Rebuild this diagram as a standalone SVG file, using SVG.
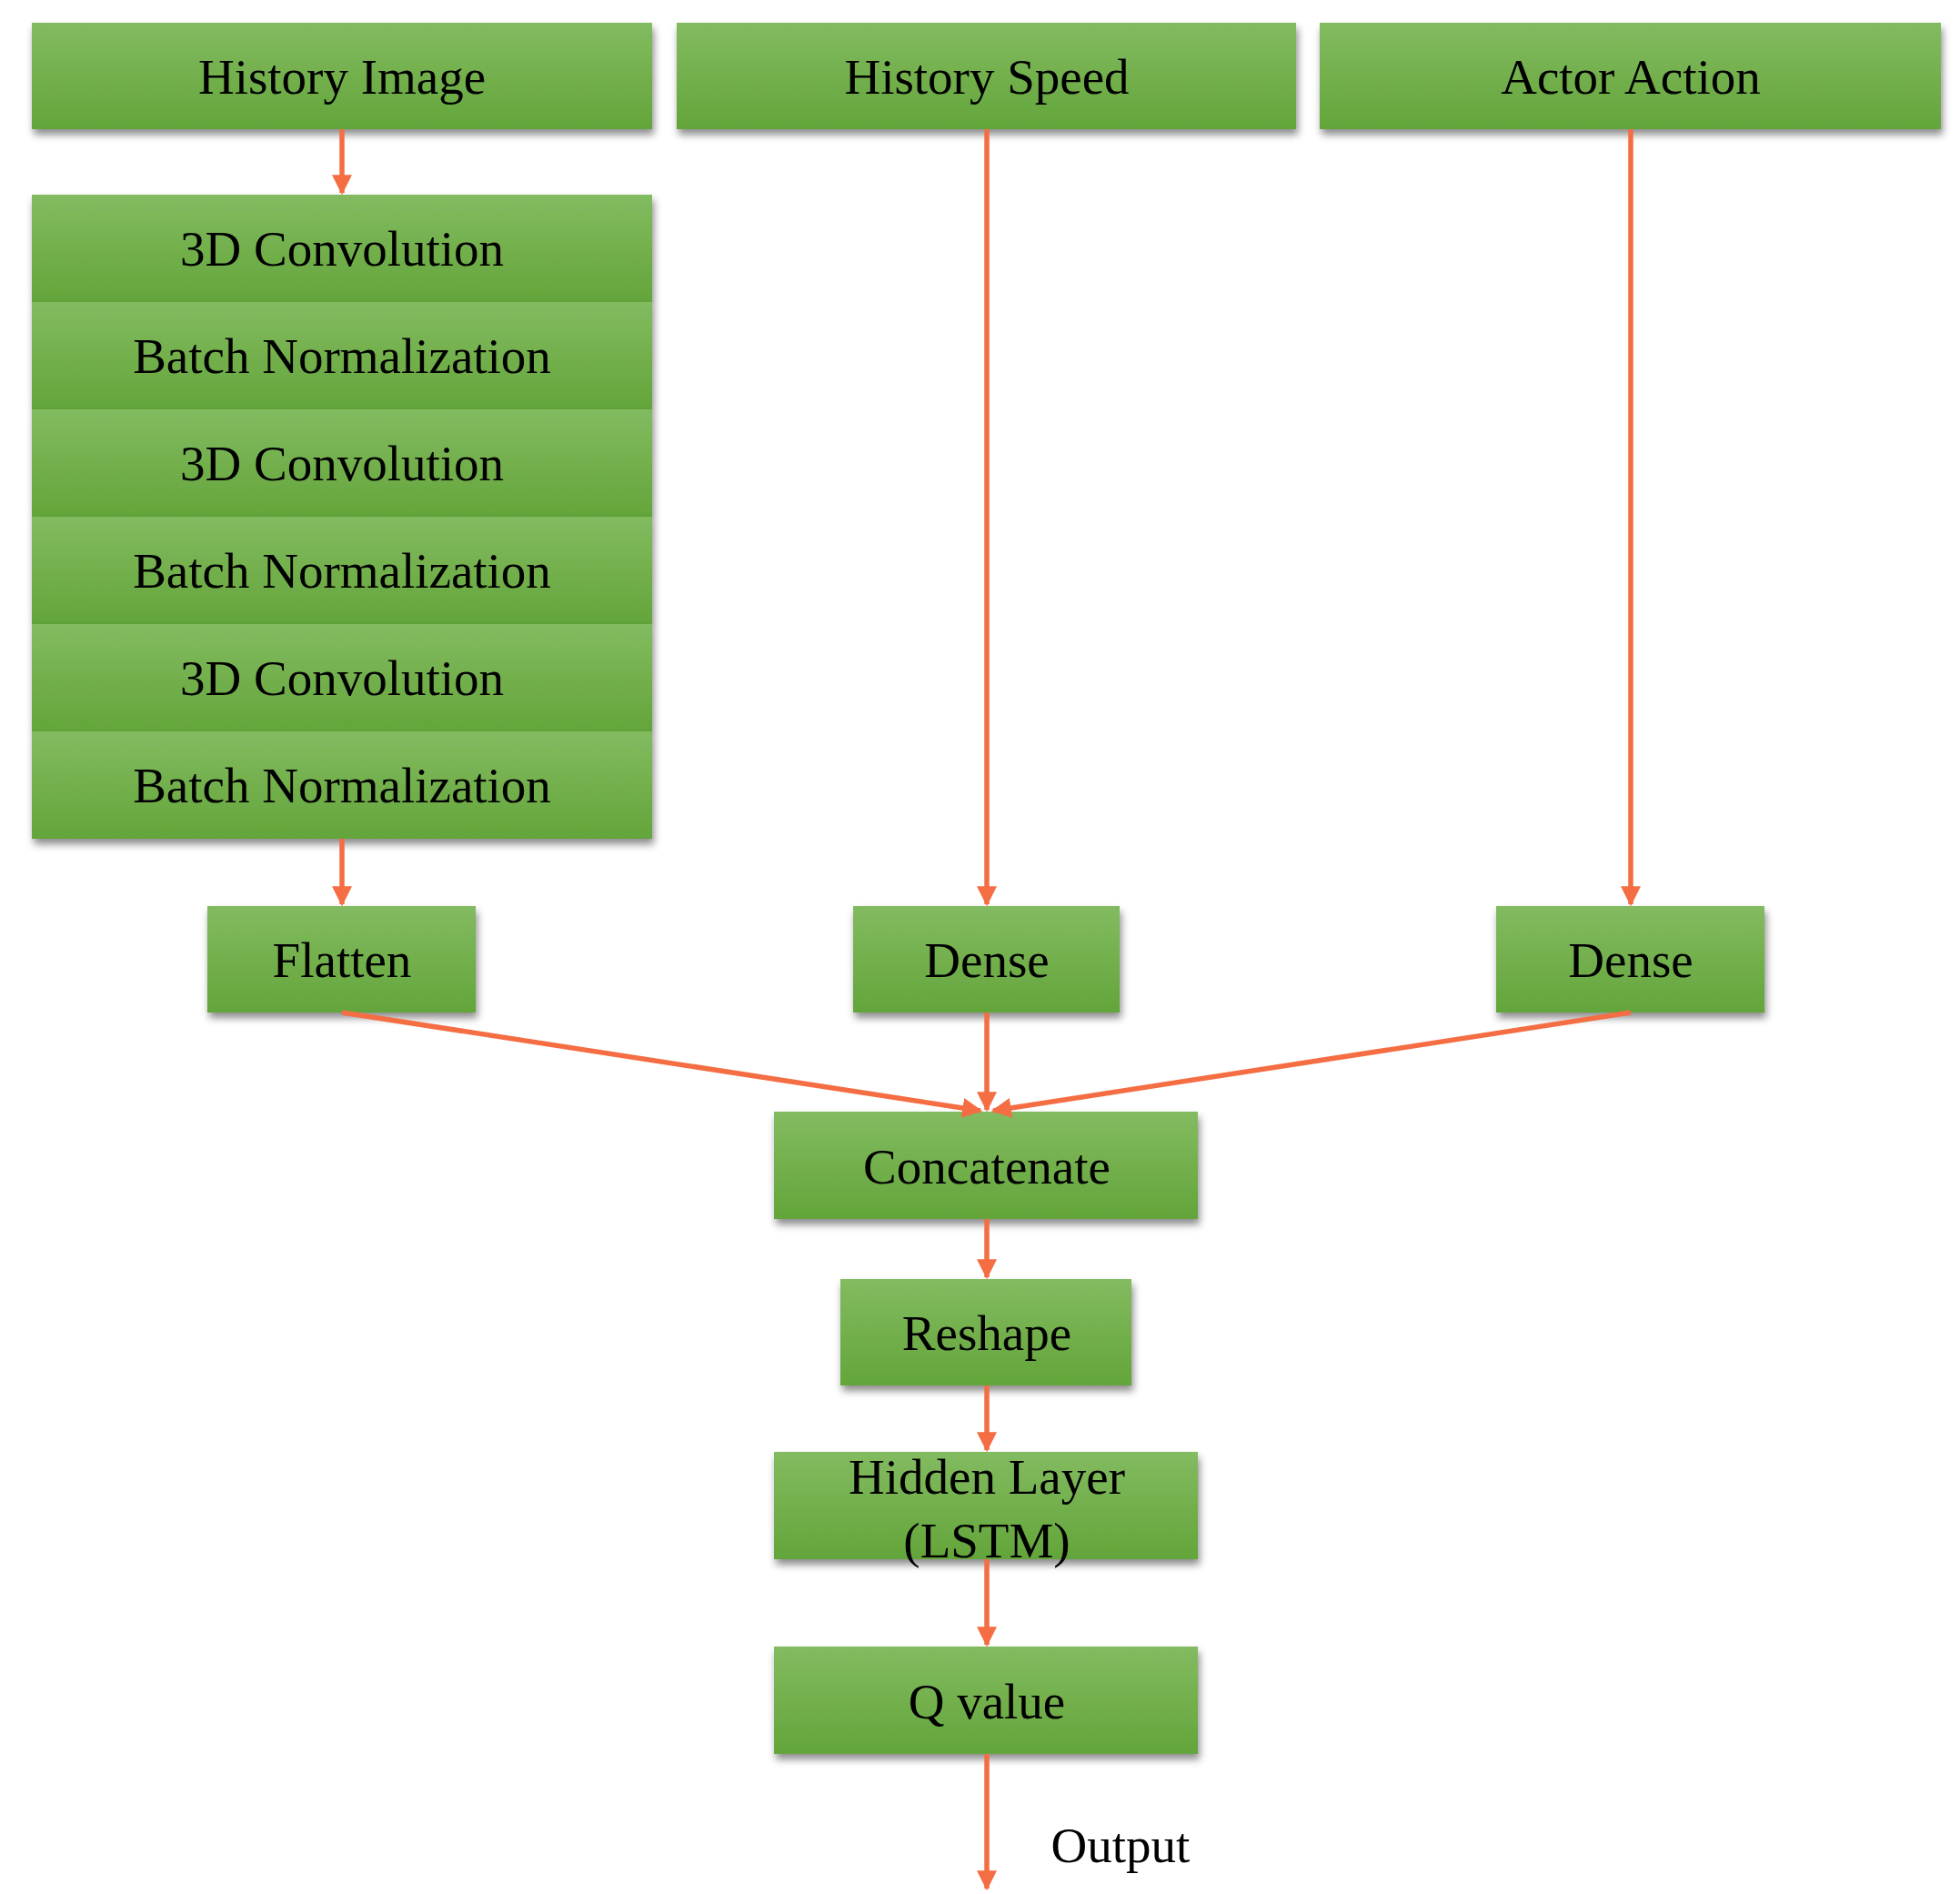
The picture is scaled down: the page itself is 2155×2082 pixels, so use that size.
<svg xmlns="http://www.w3.org/2000/svg" width="2155" height="2082" viewBox="0 0 2155 2082">
<defs>
<linearGradient id="g" x1="0" y1="0" x2="0" y2="1"><stop offset="0" stop-color="#83BB60"/><stop offset="1" stop-color="#63A53A"/></linearGradient>
<filter id="sh" x="-5%" y="-20%" width="110%" height="150%"><feDropShadow dx="2" dy="6" stdDeviation="4" flood-color="#000" flood-opacity="0.45"/></filter>
<marker id="ah" viewBox="0 0 10 10" refX="9" refY="5" markerWidth="4" markerHeight="4" orient="auto" markerUnits="strokeWidth"><path d="M0,0 L10,5 L0,10 z" fill="#F46D43"/></marker>
</defs>
<style>
rect{fill:url(#g);filter:url(#sh)}
text{font-family:"Liberation Serif","Times New Roman",serif;font-size:55px;text-anchor:middle;fill:#000}
.c line{stroke:#F46D43;stroke-width:5.5;marker-end:url(#ah)}
</style>
<rect width="2155" height="2082" fill="#fff" style="fill:#fff;filter:none"/>
<g id="historyImage"><rect x="35" y="25" width="682" height="117"/><text x="376" y="103">History Image</text></g>
<g id="historySpeed"><rect x="744" y="25" width="681" height="117"/><text x="1085" y="103">History Speed</text></g>
<g id="actorAction"><rect x="1451" y="25" width="683" height="117"/><text x="1793" y="103">Actor Action</text></g>
<g id="conv1"><rect x="35" y="214" width="682" height="118"/><text x="376" y="292">3D Convolution</text></g>
<g id="bn1"><rect x="35" y="332" width="682" height="118"/><text x="376" y="410">Batch Normalization</text></g>
<g id="conv2"><rect x="35" y="450" width="682" height="118"/><text x="376" y="528">3D Convolution</text></g>
<g id="bn2"><rect x="35" y="568" width="682" height="118"/><text x="376" y="646">Batch Normalization</text></g>
<g id="conv3"><rect x="35" y="686" width="682" height="118"/><text x="376" y="764">3D Convolution</text></g>
<g id="bn3"><rect x="35" y="804" width="682" height="118"/><text x="376" y="882">Batch Normalization</text></g>
<g id="flatten"><rect x="228" y="996" width="295" height="117"/><text x="376" y="1074">Flatten</text></g>
<g id="dense1"><rect x="938" y="996" width="293" height="117"/><text x="1085" y="1074">Dense</text></g>
<g id="dense2"><rect x="1645" y="996" width="295" height="117"/><text x="1793" y="1074">Dense</text></g>
<g id="concatenate"><rect x="851" y="1222" width="466" height="118"/><text x="1085" y="1301">Concatenate</text></g>
<g id="reshape"><rect x="924" y="1406" width="320" height="117"/><text x="1085" y="1484">Reshape</text></g>
<g id="hidden"><rect x="851" y="1596" width="466" height="118"/><text x="1085" y="1642">Hidden Layer</text><text x="1085" y="1712">(LSTM)</text></g>
<g id="qvalue"><rect x="851" y="1810" width="466" height="118"/><text x="1085" y="1889">Q value</text></g>
<g id="outputLabel"><text x="1232" y="2047">Output</text></g>
<g class="c" id="connectors">
<line x1="376" y1="142" x2="376" y2="212"/>
<line x1="1085" y1="142" x2="1085" y2="994"/>
<line x1="1793" y1="142" x2="1793" y2="994"/>
<line x1="376" y1="922" x2="376" y2="994"/>
<line x1="376" y1="1113" x2="1078" y2="1221"/>
<line x1="1085" y1="1113" x2="1085" y2="1220"/>
<line x1="1793" y1="1113" x2="1092" y2="1221"/>
<line x1="1085" y1="1340" x2="1085" y2="1404"/>
<line x1="1085" y1="1523" x2="1085" y2="1594"/>
<line x1="1085" y1="1714" x2="1085" y2="1808"/>
<line x1="1085" y1="1928" x2="1085" y2="2076"/>
</g>
</svg>
